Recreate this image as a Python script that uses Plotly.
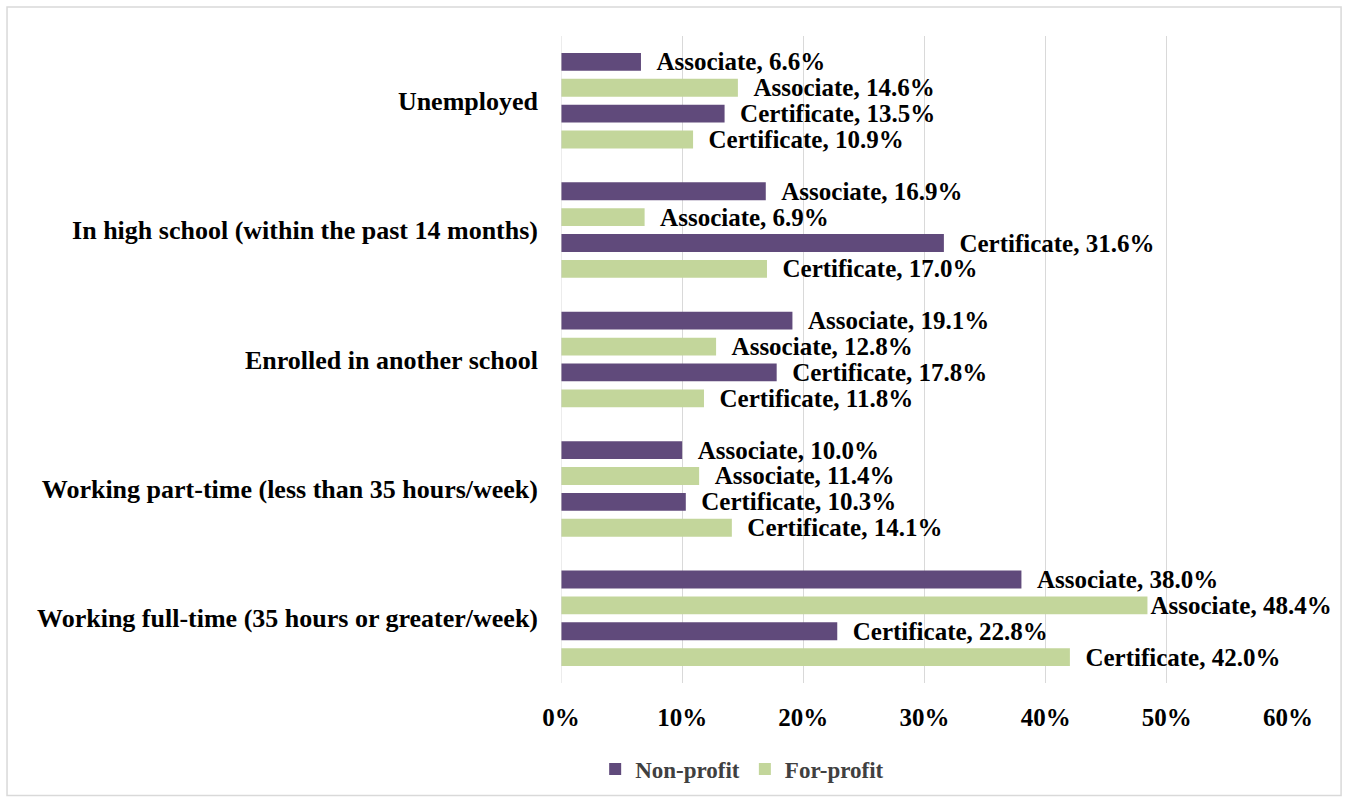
import plotly.graph_objects as go

categories = [
    "Unemployed",
    "In high school (within the past 14 months)",
    "Enrolled in another school",
    "Working part-time (less than 35 hours/week)",
    "Working full-time (35 hours or greater/week)",
]
np_associate = [6.6, 16.9, 19.1, 10.0, 38.0]
fp_associate = [14.6, 6.9, 12.8, 11.4, 48.4]
np_certificate = [13.5, 31.6, 17.8, 10.3, 22.8]
fp_certificate = [10.9, 17.0, 11.8, 14.1, 42.0]
x_ticks = [0, 10, 20, 30, 40, 50, 60]
x_tick_labels = ["0%", "10%", "20%", "30%", "40%", "50%", "60%"]

PURPLE = "#604A7B"
GREEN = "#C3D69B"
FONT = "Liberation Serif, Times New Roman, serif"
NB = "\u00a0"


def labels(prefix, vals):
    out = []
    for v in vals:
        pad = "" if v > 45 else NB * 2
        out.append(f"{pad}{prefix}, {v:.1f}%")
    return out


series = [
    ("Non-profit", "Associate", np_associate, PURPLE, True),
    ("For-profit", "Associate", fp_associate, GREEN, True),
    ("Non-profit", "Certificate", np_certificate, PURPLE, False),
    ("For-profit", "Certificate", fp_certificate, GREEN, False),
]

fig = go.Figure()
for name, kind, vals, color, show in series:
    fig.add_trace(go.Bar(
        y=categories, x=vals, orientation="h",
        name=name, legendgroup=name, showlegend=show,
        marker=dict(color=color, line=dict(width=0)),
        text=labels(kind, vals), textposition="outside",
        textfont=dict(family=FONT, size=25, color="#000000", weight="bold"),
        constraintext="none", cliponaxis=False,
        hoverinfo="skip",
    ))

fig.update_layout(
    width=1347, height=803,
    margin=dict(l=561, r=59, t=36, b=118),
    paper_bgcolor="white", plot_bgcolor="white",
    barmode="group", bargap=0.2, bargroupgap=0.31,
    font=dict(family=FONT, color="#000000"),
    legend=dict(
        orientation="h", x=0.047, y=-0.133, xanchor="left", yanchor="middle",
        font=dict(family=FONT, size=23, color="#404040", weight="bold"),
        itemwidth=30, tracegroupgap=0, traceorder="normal",
    ),
    showlegend=True,
)
fig.update_xaxes(
    range=[0, 60], tickvals=x_ticks, ticktext=x_tick_labels,
    showgrid=True, gridcolor="#D9D9D9", gridwidth=1,
    zeroline=False, showline=False, ticks="",
    tickfont=dict(family=FONT, size=25, color="#000000", weight="bold"),
    ticklabelstandoff=17,
)
fig.update_yaxes(
    autorange="reversed", categoryorder="array", categoryarray=categories,
    showgrid=False, zeroline=False, showline=False, ticks="",
    tickfont=dict(family=FONT, size=26, color="#000000", weight="bold"),
    ticklabelstandoff=22,
)
# vertical axis line at 0
fig.add_shape(type="line", xref="x", yref="paper", x0=0, x1=0, y0=0, y1=1,
              line=dict(color="#D9D9D9", width=1))
# chart border
fig.add_shape(type="rect", xref="paper", yref="paper",
              x0=-0.762, x1=1.073, y0=-0.174, y1=1.045,
              line=dict(color="#D9D9D9", width=1.5), layer="below")

fig.write_html(
    "out.html",
    config={"displayModeBar": False, "staticPlot": True},
    post_script="document.body.style.margin='0';document.body.style.overflow='hidden';",
)
